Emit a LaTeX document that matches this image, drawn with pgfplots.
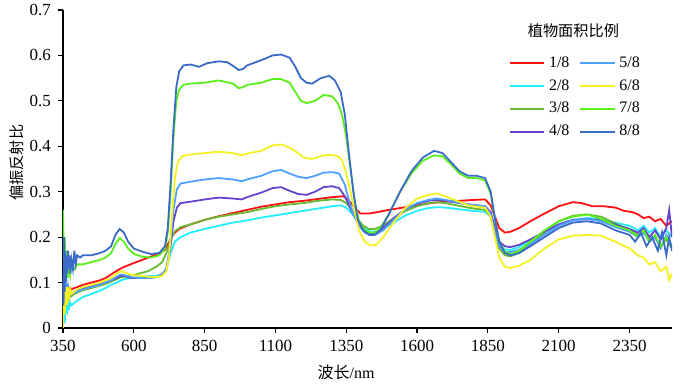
\documentclass[border=0pt]{standalone}
\usepackage{pgfplots}
\pgfplotsset{compat=1.18}
\usepackage{fontspec}
\setmainfont{Liberation Serif}
\newfontfamily\cjk{Noto Sans CJK SC}
\definecolor{c1}{HTML}{FF1010}
\definecolor{c2}{HTML}{22EEFF}
\definecolor{c3}{HTML}{66BB33}
\definecolor{c4}{HTML}{6644CC}
\definecolor{c5}{HTML}{4FA0FF}
\definecolor{c6}{HTML}{F5F022}
\definecolor{c7}{HTML}{5BEF1A}
\definecolor{c8}{HTML}{3A6BC8}
\begin{document}
\begin{tikzpicture}
\useasboundingbox (-31.5pt,-28.5pt) rectangle (316.5pt,164pt);
\begin{axis}[
  at={(0,0)}, anchor=south west,
  scale only axis, width=304.5pt, height=159pt,
  xmin=350, xmax=2500, ymin=0, ymax=0.7,
  axis lines=left, axis line style={-, line width=0.6pt},
  tick align=outside, major tick length=2.5pt,
  tick style={line width=0.6pt, black},
  xtick={350,600,850,1100,1350,1600,1850,2100,2350},
  ytick={0,0.1,0.2,0.3,0.4,0.5,0.6,0.7},
  /pgf/number format/assume math mode=true,
  /pgf/number format/1000 sep={},
  ticklabel style={font=\fontsize{8.5}{10}\selectfont},
  xlabel={\cjk 波长\rmfamily /nm},
  xlabel style={font=\fontsize{8}{10}\selectfont, at={(ticklabel cs:0.465)}, anchor=near ticklabel, yshift=0pt},
  ylabel={\cjk 偏振反射比},
  ylabel style={font=\fontsize{7.6}{9}\selectfont, at={(ticklabel cs:0.52)}, anchor=near ticklabel, yshift=-4pt},
  every axis plot/.append style={line width=0.9pt, no markers},
  legend columns=4, transpose legend,
  legend style={draw=none, fill=none, at={(0.722,0.88)}, anchor=north west,
    font=\fontsize{8}{9}\selectfont, row sep=0.6pt,
    /tikz/every even column/.append style={column sep=3pt}},
  legend cell align=left,
]
% 1/8
\addplot[c1] coordinates {(350,0.08)(353,0.11)(356,0.06)(360,0.09)(364,0.075)(368,0.09)(372,0.08)(376,0.088)(380,0.085)(390,0.088)(400,0.09)(420,0.095)(450,0.1)(480,0.105)(500,0.11)(520,0.118)(540,0.126)(560,0.133)(580,0.138)(600,0.143)(630,0.15)(660,0.157)(690,0.165)(710,0.172)(725,0.19)(740,0.207)(760,0.218)(800,0.228)(850,0.238)(900,0.246)(950,0.253)(1000,0.26)(1050,0.267)(1100,0.272)(1150,0.277)(1200,0.28)(1250,0.284)(1300,0.288)(1340,0.29)(1360,0.28)(1380,0.265)(1400,0.252)(1430,0.252)(1460,0.255)(1500,0.26)(1550,0.265)(1600,0.27)(1650,0.275)(1700,0.278)(1750,0.28)(1800,0.282)(1840,0.283)(1860,0.27)(1875,0.245)(1890,0.22)(1910,0.21)(1930,0.212)(1960,0.22)(2000,0.235)(2050,0.252)(2100,0.268)(2150,0.277)(2180,0.275)(2220,0.268)(2260,0.268)(2300,0.265)(2330,0.258)(2360,0.255)(2380,0.25)(2400,0.242)(2420,0.245)(2440,0.235)(2460,0.24)(2480,0.225)(2500,0.235)};
% 2/8
\addplot[c2] coordinates {(350,0.03)(353,0.07)(356,0.01)(360,0.06)(364,0.03)(368,0.055)(372,0.045)(376,0.055)(380,0.05)(390,0.055)(400,0.06)(420,0.068)(450,0.075)(480,0.082)(500,0.088)(520,0.095)(540,0.1)(555,0.105)(570,0.108)(590,0.11)(620,0.112)(650,0.114)(680,0.115)(700,0.118)(715,0.13)(730,0.165)(745,0.19)(765,0.2)(800,0.21)(850,0.218)(900,0.225)(950,0.232)(1000,0.237)(1050,0.243)(1100,0.248)(1150,0.253)(1200,0.258)(1250,0.263)(1300,0.268)(1330,0.27)(1350,0.265)(1370,0.252)(1390,0.235)(1410,0.222)(1430,0.213)(1450,0.212)(1480,0.218)(1520,0.233)(1560,0.248)(1600,0.258)(1640,0.264)(1670,0.266)(1700,0.265)(1740,0.262)(1780,0.259)(1810,0.257)(1840,0.256)(1860,0.245)(1875,0.215)(1890,0.185)(1910,0.173)(1930,0.172)(1960,0.178)(2000,0.193)(2050,0.21)(2100,0.228)(2150,0.238)(2200,0.242)(2250,0.24)(2300,0.232)(2350,0.225)(2380,0.215)(2400,0.225)(2420,0.21)(2440,0.22)(2460,0.2)(2480,0.215)(2500,0.2)};
% 3/8
\addplot[c3] coordinates {(350,0.07)(353,0.1)(356,0.05)(360,0.08)(364,0.06)(368,0.075)(372,0.065)(376,0.075)(380,0.07)(390,0.075)(400,0.078)(420,0.083)(450,0.088)(480,0.093)(500,0.097)(520,0.102)(540,0.108)(555,0.112)(570,0.113)(590,0.115)(620,0.12)(650,0.125)(680,0.135)(700,0.145)(715,0.165)(730,0.195)(745,0.213)(765,0.222)(800,0.228)(850,0.238)(900,0.245)(950,0.25)(1000,0.255)(1050,0.262)(1100,0.268)(1150,0.272)(1200,0.275)(1250,0.28)(1300,0.283)(1330,0.282)(1350,0.275)(1370,0.26)(1390,0.24)(1410,0.225)(1430,0.218)(1450,0.218)(1480,0.225)(1520,0.243)(1560,0.258)(1600,0.268)(1640,0.275)(1670,0.277)(1700,0.275)(1740,0.27)(1780,0.265)(1810,0.262)(1840,0.26)(1860,0.245)(1875,0.205)(1890,0.175)(1910,0.16)(1930,0.158)(1960,0.165)(2000,0.185)(2050,0.21)(2100,0.235)(2150,0.247)(2200,0.25)(2250,0.245)(2300,0.23)(2350,0.215)(2380,0.205)(2400,0.21)(2420,0.195)(2440,0.2)(2460,0.18)(2480,0.195)(2500,0.175)};
% 4/8
\addplot[c4] coordinates {(350,0.06)(353,0.11)(356,0.05)(360,0.09)(364,0.065)(368,0.085)(372,0.07)(376,0.08)(380,0.075)(390,0.08)(400,0.082)(420,0.088)(450,0.092)(480,0.097)(500,0.1)(520,0.105)(540,0.11)(555,0.115)(570,0.114)(590,0.11)(620,0.11)(650,0.11)(680,0.112)(700,0.118)(715,0.13)(728,0.17)(740,0.235)(752,0.265)(765,0.275)(800,0.278)(850,0.283)(900,0.287)(950,0.285)(980,0.283)(1000,0.288)(1050,0.298)(1090,0.308)(1120,0.31)(1150,0.302)(1180,0.295)(1210,0.293)(1240,0.3)(1270,0.31)(1300,0.312)(1325,0.308)(1345,0.29)(1360,0.27)(1375,0.25)(1395,0.228)(1415,0.213)(1435,0.208)(1455,0.21)(1480,0.22)(1520,0.243)(1560,0.262)(1600,0.273)(1640,0.28)(1670,0.282)(1700,0.28)(1740,0.276)(1780,0.272)(1810,0.27)(1840,0.268)(1860,0.255)(1875,0.22)(1890,0.19)(1910,0.18)(1930,0.178)(1960,0.183)(2000,0.195)(2050,0.212)(2100,0.228)(2150,0.238)(2200,0.24)(2250,0.237)(2300,0.228)(2350,0.218)(2380,0.21)(2400,0.22)(2420,0.2)(2440,0.215)(2460,0.195)(2480,0.22)(2490,0.26)(2500,0.2)};
% 5/8
\addplot[c5] coordinates {(350,0.05)(353,0.12)(356,0.04)(360,0.1)(364,0.06)(368,0.09)(372,0.07)(376,0.08)(380,0.075)(390,0.078)(400,0.08)(420,0.085)(450,0.09)(480,0.095)(500,0.1)(520,0.105)(540,0.113)(555,0.118)(570,0.116)(590,0.112)(620,0.11)(650,0.11)(680,0.112)(700,0.117)(715,0.13)(728,0.18)(740,0.26)(752,0.305)(765,0.318)(800,0.322)(850,0.327)(900,0.33)(950,0.327)(980,0.323)(1000,0.327)(1050,0.335)(1090,0.345)(1120,0.348)(1150,0.34)(1180,0.333)(1210,0.33)(1240,0.335)(1270,0.342)(1300,0.343)(1325,0.34)(1345,0.315)(1360,0.28)(1375,0.25)(1395,0.225)(1415,0.21)(1435,0.205)(1455,0.206)(1480,0.215)(1520,0.24)(1560,0.262)(1600,0.275)(1640,0.282)(1670,0.285)(1700,0.282)(1740,0.277)(1780,0.272)(1810,0.27)(1840,0.268)(1860,0.25)(1875,0.21)(1890,0.18)(1910,0.168)(1930,0.167)(1960,0.172)(2000,0.185)(2050,0.205)(2100,0.225)(2150,0.237)(2200,0.24)(2250,0.235)(2300,0.222)(2350,0.212)(2380,0.2)(2400,0.21)(2420,0.19)(2440,0.2)(2460,0.175)(2480,0.205)(2500,0.18)};
% 6/8
\addplot[c6] coordinates {(350,0.0)(353,0.1)(356,0.03)(360,0.09)(364,0.05)(368,0.09)(372,0.07)(376,0.085)(380,0.075)(390,0.08)(400,0.085)(420,0.09)(450,0.095)(480,0.1)(500,0.105)(520,0.11)(540,0.12)(555,0.125)(570,0.122)(590,0.117)(620,0.115)(650,0.113)(680,0.112)(700,0.115)(715,0.125)(725,0.16)(735,0.25)(745,0.33)(755,0.365)(770,0.378)(800,0.382)(850,0.385)(900,0.388)(950,0.385)(980,0.38)(1000,0.384)(1050,0.39)(1090,0.402)(1120,0.404)(1150,0.397)(1180,0.385)(1200,0.375)(1230,0.372)(1270,0.38)(1300,0.381)(1320,0.378)(1335,0.37)(1350,0.34)(1365,0.3)(1380,0.255)(1395,0.215)(1415,0.19)(1435,0.182)(1455,0.183)(1480,0.2)(1520,0.235)(1560,0.265)(1600,0.285)(1640,0.293)(1670,0.296)(1700,0.29)(1740,0.28)(1780,0.27)(1810,0.267)(1840,0.265)(1860,0.245)(1875,0.2)(1890,0.155)(1910,0.135)(1930,0.132)(1960,0.137)(2000,0.15)(2050,0.175)(2100,0.195)(2150,0.203)(2200,0.205)(2250,0.203)(2300,0.19)(2350,0.175)(2380,0.16)(2400,0.155)(2420,0.14)(2440,0.145)(2460,0.125)(2480,0.135)(2490,0.105)(2500,0.12)};
% 7/8
\addplot[c7] coordinates {(350,0.26)(353,0.15)(356,0.2)(360,0.12)(364,0.17)(368,0.11)(372,0.15)(376,0.12)(380,0.14)(390,0.13)(400,0.14)(420,0.14)(450,0.145)(480,0.15)(500,0.155)(520,0.165)(535,0.185)(550,0.198)(565,0.19)(580,0.175)(600,0.163)(630,0.157)(660,0.155)(690,0.16)(710,0.175)(720,0.21)(730,0.3)(740,0.42)(750,0.5)(760,0.525)(775,0.535)(800,0.538)(850,0.54)(900,0.545)(950,0.538)(970,0.528)(985,0.53)(1000,0.535)(1050,0.54)(1090,0.548)(1120,0.548)(1150,0.54)(1170,0.52)(1190,0.5)(1210,0.495)(1240,0.5)(1270,0.513)(1300,0.51)(1320,0.495)(1335,0.47)(1350,0.42)(1365,0.35)(1380,0.28)(1395,0.235)(1415,0.215)(1435,0.21)(1450,0.21)(1470,0.22)(1500,0.25)(1540,0.3)(1580,0.34)(1620,0.368)(1660,0.38)(1690,0.378)(1720,0.36)(1750,0.34)(1780,0.33)(1810,0.33)(1840,0.325)(1860,0.295)(1875,0.24)(1890,0.19)(1910,0.168)(1930,0.163)(1960,0.17)(2000,0.19)(2050,0.215)(2100,0.235)(2150,0.245)(2200,0.25)(2250,0.24)(2300,0.225)(2350,0.215)(2380,0.2)(2400,0.215)(2420,0.19)(2440,0.205)(2460,0.18)(2480,0.2)(2500,0.175)};
% 8/8
\addplot[c8] coordinates {(350,0.13)(352,0.05)(354,0.2)(356,0.08)(358,0.17)(360,0.1)(362,0.16)(365,0.12)(368,0.17)(370,0.13)(373,0.16)(376,0.12)(380,0.15)(385,0.13)(390,0.17)(395,0.14)(400,0.16)(410,0.155)(420,0.16)(450,0.16)(480,0.165)(500,0.17)(520,0.18)(535,0.205)(550,0.218)(565,0.21)(580,0.19)(600,0.175)(630,0.168)(660,0.163)(690,0.165)(710,0.18)(720,0.22)(730,0.32)(740,0.44)(750,0.53)(760,0.565)(775,0.578)(800,0.58)(830,0.575)(860,0.583)(900,0.587)(930,0.585)(950,0.577)(970,0.568)(985,0.57)(1000,0.578)(1030,0.585)(1060,0.592)(1090,0.6)(1120,0.602)(1150,0.595)(1170,0.575)(1190,0.55)(1210,0.54)(1230,0.538)(1260,0.55)(1290,0.555)(1310,0.545)(1330,0.52)(1345,0.47)(1360,0.38)(1375,0.3)(1390,0.24)(1410,0.215)(1430,0.205)(1450,0.205)(1470,0.215)(1500,0.25)(1540,0.3)(1580,0.345)(1620,0.375)(1660,0.39)(1690,0.385)(1720,0.365)(1750,0.345)(1780,0.335)(1810,0.335)(1840,0.33)(1860,0.3)(1875,0.24)(1890,0.19)(1910,0.165)(1930,0.16)(1960,0.165)(2000,0.18)(2050,0.2)(2100,0.22)(2150,0.232)(2200,0.235)(2250,0.23)(2300,0.215)(2350,0.205)(2370,0.19)(2390,0.21)(2410,0.18)(2430,0.2)(2450,0.17)(2465,0.21)(2480,0.16)(2490,0.2)(2500,0.17)};
\legend{1/8,2/8,3/8,4/8,5/8,6/8,7/8,8/8}
\node[font=\cjk\fontsize{7.6}{9}\selectfont] at (axis cs:2152,0.654) {植物面积比例};
\end{axis}
\end{tikzpicture}
\end{document}
